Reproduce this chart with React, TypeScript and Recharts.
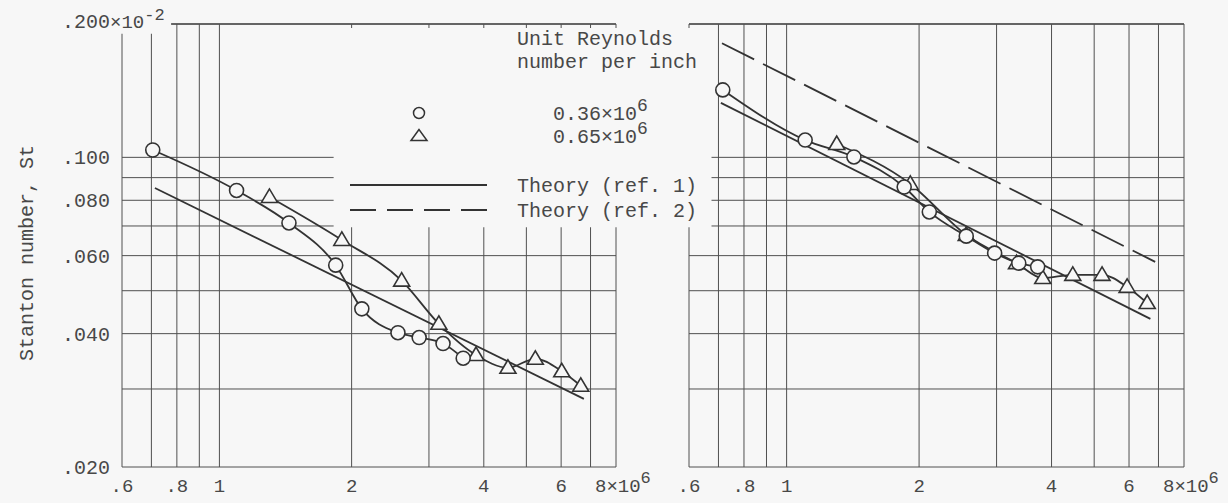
import React from 'react';
import { LineChart, Line, XAxis, YAxis, CartesianGrid, ReferenceArea, ReferenceLine } from 'recharts';

const INK = '#333333';
const GRID = '#505050';
const TEXT = '#484848';
const PAPER = '#f7f7f7';
const FONT = '"Liberation Mono", "DejaVu Sans Mono", monospace';

// Reynolds number (x10^6) on x, Stanton number (x10^-2) on y, both log scales
const xTicks = [0.6, 0.7, 0.8, 0.9, 1, 2, 3, 4, 5, 6, 7, 8];
const xLabels: Record<string, string> = { '0.6': '.6', '0.8': '.8', '1': '1', '2': '2', '4': '4', '6': '6', '8': '8' };
const yTicks = [0.02, 0.03, 0.04, 0.05, 0.06, 0.07, 0.08, 0.09, 0.1, 0.2];
const yLabels: Record<string, string> = { '0.02': '.020', '0.04': '.040', '0.06': '.060', '0.08': '.080', '0.1': '.100', '0.2': '.200' };

// left panel
const leftCircles = [
  { re: 0.705, st: 0.1039 },
  { re: 1.094, st: 0.0842 },
  { re: 1.44, st: 0.0711 },
  { re: 1.84, st: 0.0571 },
  { re: 2.11, st: 0.0455 },
  { re: 2.55, st: 0.0402 },
  { re: 2.85, st: 0.0392 },
  { re: 3.23, st: 0.038 },
  { re: 3.59, st: 0.0352 },
];
const leftTriangles = [
  { re: 1.3, st: 0.0814 },
  { re: 1.9, st: 0.0651 },
  { re: 2.6, st: 0.0527 },
  { re: 3.16, st: 0.0421 },
  { re: 3.84, st: 0.0358 },
  { re: 4.54, st: 0.0335 },
  { re: 5.24, st: 0.0351 },
  { re: 6.02, st: 0.0329 },
  { re: 6.65, st: 0.0305 },
];
const leftTheory1 = [
  { re: 0.713, st: 0.0853 },
  { re: 6.76, st: 0.0285 },
];

// right panel
const rightCircles = [
  { re: 0.716, st: 0.142 },
  { re: 1.102, st: 0.1094 },
  { re: 1.422, st: 0.1002 },
  { re: 1.85, st: 0.0857 },
  { re: 2.11, st: 0.0753 },
  { re: 2.56, st: 0.0664 },
  { re: 2.97, st: 0.0608 },
  { re: 3.37, st: 0.0577 },
  { re: 3.72, st: 0.0566 },
];
const rightTriangles = [
  { re: 1.3, st: 0.1072 },
  { re: 1.91, st: 0.0871 },
  { re: 2.56, st: 0.0668 },
  { re: 3.33, st: 0.0577 },
  { re: 3.82, st: 0.0534 },
  { re: 4.47, st: 0.0543 },
  { re: 5.21, st: 0.0543 },
  { re: 5.94, st: 0.051 },
  { re: 6.6, st: 0.0469 },
];
const rightTheory1 = [
  { re: 0.709, st: 0.1327 },
  { re: 6.71, st: 0.0432 },
];
const rightTheory2 = [
  { re: 0.713, st: 0.181 },
  { re: 6.88, st: 0.0581 },
];

const CircleDot = (p: any) => {
  if (p.cx == null || p.cy == null) return <g key={p.key} />;
  return <circle key={p.key} cx={p.cx} cy={p.cy} r={7} fill={PAPER} stroke={INK} strokeWidth={1.6} />;
};

const TriangleDot = (p: any) => {
  if (p.cx == null || p.cy == null) return <g key={p.key} />;
  const { cx, cy } = p;
  return (
    <path
      key={p.key}
      d={`M${cx},${cy - 8} L${cx - 8},${cy + 5.5} L${cx + 8},${cy + 5.5} Z`}
      fill={PAPER}
      stroke={INK}
      strokeWidth={1.6}
    />
  );
};

const XTick = (p: any) => {
  const v = p.payload.value;
  const lab = xLabels[String(v)];
  if (!lab) return <g />;
  if (v === 8) {
    return (
      <text x={p.x - 21} y={492} textAnchor="start" fill={TEXT} fontSize={19} fontFamily={FONT}>
        8×10<tspan dy={-9} fontSize={17}>6</tspan>
      </text>
    );
  }
  return (
    <text x={p.x} y={492} textAnchor="middle" fill={TEXT} fontSize={19} fontFamily={FONT}>
      {lab}
    </text>
  );
};

const YTick = (p: any) => {
  const v = p.payload.value;
  const lab = yLabels[String(v)];
  if (!lab) return <g />;
  if (v === 0.2) {
    return (
      <g>
        <text x={110} y={p.y + 4} textAnchor="end" fill={TEXT} fontSize={20} fontFamily={FONT}>
          {lab}
        </text>
        <text x={110} y={p.y + 4} textAnchor="start" fill={TEXT} fontSize={19} fontFamily={FONT}>
          ×10<tspan dy={-8} fontSize={17}>-2</tspan>
        </text>
      </g>
    );
  }
  return (
    <text x={110} y={p.y + 7} textAnchor="end" fill={TEXT} fontSize={20} fontFamily={FONT}>
      {lab}
    </text>
  );
};

const NoTick = () => <g />;

const lineProps = {
  dataKey: 'st',
  stroke: INK,
  strokeWidth: 1.8,
  isAnimationActive: false,
};

const Panel = ({ width, margin, yWidth, circles, triangles, theory1, theory2, masks, topFrom, yTick }: any) => (
  <LineChart width={width} height={503} margin={margin}>
    <CartesianGrid stroke={GRID} strokeWidth={1} />
    {/* blank paper behind the legend */}
    {masks.map((m: any, i: number) => (
      <ReferenceArea
        key={i}
        x1={m[0]}
        x2={m[1]}
        y1={m[2]}
        y2={m[3]}
        fill={PAPER}
        fillOpacity={1}
        stroke="none"
        ifOverflow="visible"
      />
    ))}
    {/* top frame line */}
    <ReferenceLine
      segment={[
        { x: topFrom, y: 0.2 },
        { x: 8, y: 0.2 },
      ]}
      stroke={GRID}
      strokeWidth={1.3}
      ifOverflow="visible"
    />
    <XAxis
      dataKey="re"
      type="number"
      scale="log"
      domain={[0.6, 8]}
      ticks={xTicks}
      allowDataOverflow
      axisLine={false}
      tickLine={false}
      height={30}
      interval={0}
      tick={<XTick />}
    />
    <YAxis
      dataKey="st"
      type="number"
      scale="log"
      domain={[0.02, 0.2]}
      ticks={yTicks}
      allowDataOverflow
      axisLine={false}
      tickLine={false}
      width={yWidth}
      interval={0}
      tick={yTick}
    />
    <Line {...lineProps} data={theory1} type="linear" dot={false} />
    {theory2 && <Line {...lineProps} data={theory2} type="linear" dot={false} strokeDasharray="36 10" />}
    <Line {...lineProps} data={triangles} type="monotone" dot={TriangleDot} />
    <Line {...lineProps} data={circles} type="monotone" dot={CircleDot} />
  </LineChart>
);

export default function App() {
  return (
    <div style={{ position: 'absolute', left: 0, top: 0, width: 1228, height: 503, background: PAPER, overflow: 'hidden' }}>
      <div style={{ position: 'absolute', left: 0, top: 0 }}>
        <Panel
          width={670}
          margin={{ top: 24, right: 54, bottom: 6, left: 22 }}
          yWidth={100}
          circles={leftCircles}
          triangles={leftTriangles}
          theory1={leftTheory1}
          topFrom={0.776}
          masks={[
            [1.82, 8.3, 0.0695, 0.196],
            [0.58, 0.778, 0.19, 0.21],
          ]}
          yTick={<YTick />}
        />
      </div>
      <div style={{ position: 'absolute', left: 660, top: 0 }}>
        <Panel
          width={568}
          margin={{ top: 24, right: 44, bottom: 6, left: 9 }}
          yWidth={20}
          circles={rightCircles}
          triangles={rightTriangles}
          theory1={rightTheory1}
          theory2={rightTheory2}
          topFrom={0.6}
          masks={[[0.595, 0.675, 0.0695, 0.196]]}
          yTick={<NoTick />}
        />
      </div>
      <svg
        width={1228}
        height={503}
        style={{ position: 'absolute', left: 0, top: 0, pointerEvents: 'none' }}
        fontFamily={FONT}
      >
        <text transform="translate(33,253) rotate(-90)" textAnchor="middle" fill={TEXT} fontSize={20}>
          Stanton number, St
        </text>
        <text x={517} y={45} fill={TEXT} fontSize={20}>Unit Reynolds</text>
        <text x={517} y={68} fill={TEXT} fontSize={20}>number per inch</text>
        <circle cx={419} cy={113} r={5.5} fill="none" stroke={INK} strokeWidth={1.5} />
        <path d="M419,129.5 L411,140.5 L427,140.5 Z" fill="none" stroke={INK} strokeWidth={1.5} />
        <text x={553} y={120} fill={TEXT} fontSize={20}>
          0.36×10<tspan dy={-9} fontSize={18}>6</tspan>
        </text>
        <text x={553} y={143} fill={TEXT} fontSize={20}>
          0.65×10<tspan dy={-9} fontSize={18}>6</tspan>
        </text>
        <line x1={350} y1={185} x2={487} y2={185} stroke={INK} strokeWidth={1.8} />
        <line x1={350} y1={210} x2={487} y2={210} stroke={INK} strokeWidth={1.8} strokeDasharray="26 11" />
        <text x={517} y={192} fill={TEXT} fontSize={20}>Theory (ref. 1)</text>
        <text x={517} y={217} fill={TEXT} fontSize={20}>Theory (ref. 2)</text>
      </svg>
    </div>
  );
}
